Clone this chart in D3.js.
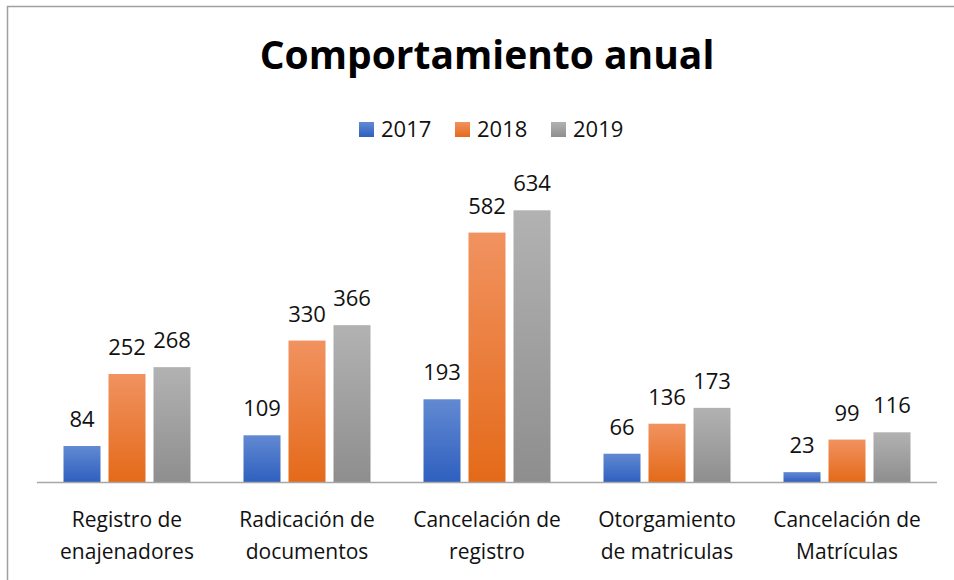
<!DOCTYPE html>
<html>
<head>
<meta charset="utf-8">
<script src="https://cdn.jsdelivr.net/npm/d3@7"></script>
<style>
  body { margin: 0; background: #fff; }
  svg { display: block; }
</style>
</head>
<body>
<svg id="chart" width="954" height="580"></svg>
<script>
let categories = [
    ["Registro de", "enajenadores"],
    ["Radicación de", "documentos"],
    ["Cancelación de", "registro"],
    ["Otorgamiento", "de matriculas"],
    ["Cancelación de", "Matrículas"]
]
let seriesNames = ["2017", "2018", "2019"]
let values2017 = [84, 109, 193, 66, 23]
let values2018 = [252, 330, 582, 136, 99]
let values2019 = [268, 366, 634, 173, 116]
let allValues = [values2017, values2018, values2019]

let svg = d3.select("#chart")
let font = "'Open Sans', Lato, sans-serif"
let colors = [
    ["#6289d2", "#2f60bf"],
    ["#f19260", "#e46a19"],
    ["#b2b2b2", "#8e8e8e"]
]

// 渐变
let defs = svg.append("defs")
colors.forEach(function (c, i) {
    let g = defs.append("linearGradient")
        .attr("id", "grad" + i)
        .attr("x1", 0).attr("y1", 0)
        .attr("x2", 0).attr("y2", 1)
    g.append("stop").attr("offset", "0%").attr("stop-color", c[0])
    g.append("stop").attr("offset", "100%").attr("stop-color", c[1])
})

// 边框
svg.append("rect")
    .attr("x", 7.5)
    .attr("y", 6.5)
    .attr("width", 960)
    .attr("height", 600)
    .style("fill", "#fff")
    .style("stroke", "#a0a0a0")
    .style("stroke-width", 1.5)

let plot_left = 37
let plot_right = 937
let baseline = 482

let x = d3.scaleBand()
    .domain(d3.range(categories.length))
    .range([plot_left, plot_right])
let y = d3.scaleLinear()
    .domain([0, 700])
    .range([baseline, baseline - 300])

let bar_width = 37
let bar_step = 45

seriesNames.forEach(function (name, s) {
    let vals = allValues[s]
    svg.selectAll(".bar" + s)
        .data(vals)
        .enter()
        .append("rect")
        .attr("class", "bar" + s)
        .attr("x", function (d, i) {
            return x(i) + x.bandwidth() / 2 + (s - 1) * bar_step - bar_width / 2
        })
        .attr("y", function (d) { return y(d) })
        .attr("width", bar_width)
        .attr("height", function (d) { return baseline - y(d) })
        .style("fill", "url(#grad" + s + ")")

    svg.selectAll(".label" + s)
        .data(vals)
        .enter()
        .append("text")
        .attr("class", "label" + s)
        .text(function (d) { return d })
        .attr("x", function (d, i) {
            return x(i) + x.bandwidth() / 2 + (s - 1) * bar_step
        })
        .attr("y", function (d) { return y(d) - 19 })
        .attr("text-anchor", "middle")
        .style("fill", "#111")
        .style("font-size", "22px")
        .style("font-family", font)
})

// 坐标轴
svg.append("line")
    .attr("x1", plot_left)
    .attr("x2", plot_right)
    .attr("y1", baseline + 0.5)
    .attr("y2", baseline + 0.5)
    .style("stroke", "#a6a6a6")
    .style("stroke-width", 1.5)

categories.forEach(function (lines, i) {
    let t = svg.append("text")
        .attr("text-anchor", "middle")
        .style("fill", "#111")
        .style("font-size", "21px")
        .style("font-family", font)
    lines.forEach(function (l, k) {
        t.append("tspan")
            .attr("x", x(i) + x.bandwidth() / 2)
            .attr("y", 527 + k * 32)
            .text(l)
    })
})

// 标题
svg.append("text")
    .text("Comportamiento anual")
    .attr("x", 487)
    .attr("y", 69)
    .attr("text-anchor", "middle")
    .style("fill", "#000")
    .style("font-size", "39px")
    .style("font-weight", "bold")
    .style("font-family", font)

// 图例
let legend_x = [359, 455, 551]
seriesNames.forEach(function (name, s) {
    svg.append("rect")
        .attr("x", legend_x[s])
        .attr("y", 122)
        .attr("width", 15)
        .attr("height", 15)
        .style("fill", "url(#grad" + s + ")")
    svg.append("text")
        .text(name)
        .attr("x", legend_x[s] + 22)
        .attr("y", 137)
        .style("fill", "#111")
        .style("font-size", "22px")
        .style("font-family", font)
})
</script>
</body>
</html>
